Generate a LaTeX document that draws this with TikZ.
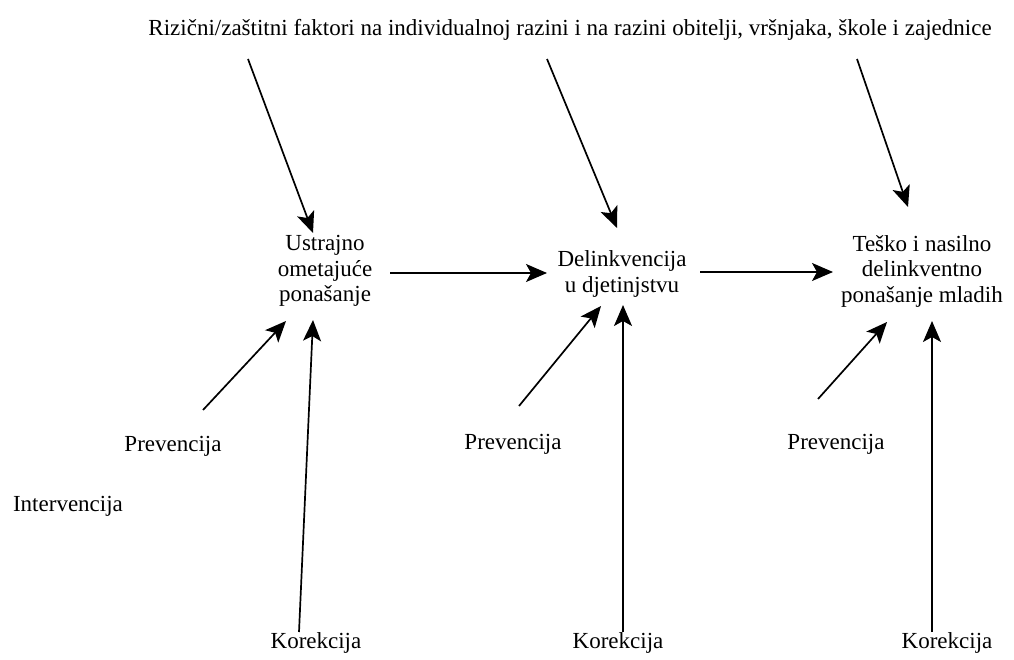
\documentclass[tikz,border=0pt]{standalone}
\usepackage{fontspec}
\setmainfont{Liberation Serif}
\usetikzlibrary{arrows.meta}
\begin{document}
\begin{tikzpicture}[x=1pt,y=-1pt,
  lbl/.style={inner sep=0pt, font=\fontsize{23}{25.5}\selectfont, align=center, anchor=center},
  arr/.style={line width=1.7pt, -{Stealth[length=21pt,width=18pt,inset=5pt]}}]
\useasboundingbox (0,0) rectangle (1014,660);
\node[lbl] (top) at (570,30) {Rizični/zaštitni faktori na individualnoj razini i na razini obitelji, vršnjaka, škole i zajednice};
\node[lbl] (n1) at (325,271) {Ustrajno\\ometajuće\\ponašanje};
\node[lbl] (n2) at (622,274) {Delinkvencija\\u djetinjstvu};
\node[lbl] (n3) at (922,271) {Teško i nasilno\\delinkventno\\ponašanje mladih};
\node[lbl] (p1) at (173,446) {Prevencija};
\node[lbl] (p2) at (513,444) {Prevencija};
\node[lbl] (p3) at (836,444) {Prevencija};
\node[lbl] (iv) at (68,506) {Intervencija};
\node[lbl] (k1) at (316,643) {Korekcija};
\node[lbl] (k2) at (618,643) {Korekcija};
\node[lbl] (k3) at (947,643) {Korekcija};
% top arrows
\coordinate (t1s) at (248,59); \coordinate (t1e) at (313,233);
\coordinate (t2s) at (547,59); \coordinate (t2e) at (617,228);
\coordinate (t3s) at (857,59); \coordinate (t3e) at (908,207);
\draw[arr] (t1s) -- (t1e);
\draw[arr] (t2s) -- (t2e);
\draw[arr] (t3s) -- (t3e);
% horizontal arrows
\coordinate (h1s) at (390,273); \coordinate (h1e) at (547,273);
\coordinate (h2s) at (700,272); \coordinate (h2e) at (833,272);
\draw[arr] (h1s) -- (h1e);
\draw[arr] (h2s) -- (h2e);
% prevention arrows
\coordinate (p1s) at (203,410); \coordinate (p1e) at (286,321);
\coordinate (p2s) at (519,406); \coordinate (p2e) at (601,306);
\coordinate (p3s) at (818,399); \coordinate (p3e) at (887,322);
\draw[arr] (p1s) -- (p1e);
\draw[arr] (p2s) -- (p2e);
\draw[arr] (p3s) -- (p3e);
% correction arrows
\coordinate (k1s) at (299,632); \coordinate (k1e) at (313,320);
\coordinate (k2s) at (623,632); \coordinate (k2e) at (623,305);
\coordinate (k3s) at (932,632); \coordinate (k3e) at (932,321);
\draw[arr] (k1s) -- (k1e);
\draw[arr] (k2s) -- (k2e);
\draw[arr] (k3s) -- (k3e);
\end{tikzpicture}
\end{document}
